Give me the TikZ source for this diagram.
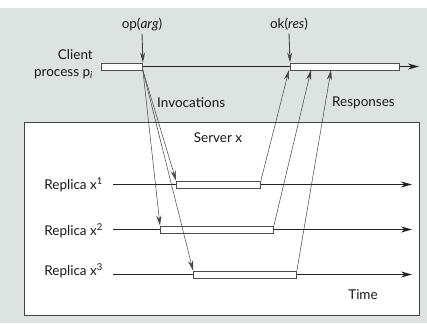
\documentclass[tikz,border=0pt]{standalone}
\usepackage{fontspec}
\setmainfont{Lato}
\usetikzlibrary{arrows.meta,calc}
\definecolor{bgc}{HTML}{DCE3E0}
\definecolor{linec}{HTML}{222222}
\tikzset{
  bar/.style={draw=linec!80, fill=white, line width=0.9pt, minimum height=7pt, inner sep=0pt, anchor=west},
  tl/.style={draw=linec, line width=0.9pt, -{Stealth[length=11pt,width=6pt]}},
  msg/.style={draw=linec!85, line width=0.5pt, -{Stealth[length=10pt,width=5pt]}},
  lbl/.style={font=\fontsize{13.5}{15}\selectfont, text=black!90, inner sep=0pt},
}
\begin{document}
\begin{tikzpicture}[x=1pt,y=-1pt]
\useasboundingbox (0,0) rectangle (427,323);
\fill[bgc] (0,8) rectangle (427,323);
\fill[white] (0,0) rectangle (427,8);
% server box
\node[draw=linec!85, fill=white, line width=1pt, minimum width=395pt, minimum height=193pt, anchor=north west, inner sep=0pt] (server) at (24,122) {};
% client
\node[bar, minimum width=41pt] (cbar) at (101,66.5) {};
\node[bar, minimum width=109pt] (rbar) at (290,66.5) {};
\coordinate (cend) at (419,66.5);
\draw[draw=linec, line width=0.9pt] (cbar.east) -- (rbar.west);
\draw[tl] (rbar.east) -- (cend);
\node[lbl, align=right, anchor=east] (client) at (93,64) {Client\\[2pt]process p\textsubscript{\textit{i}}};
\node[lbl] (op) at (142,24) {op(\textit{arg})};
\node[lbl] (ok) at (289,24) {ok(\textit{res})};
\draw[msg, line width=0.9pt] (op.south)++(0,3) -- (cbar.north east);
\draw[msg, line width=0.9pt] (ok.south)++(0,3) -- (rbar.north west);
\node[lbl, anchor=west] (inv) at (157,103) {Invocations};
\node[lbl, anchor=west] (resp) at (332,103) {Responses};
\node[lbl] (srv) at (218,138) {Server x};
% replicas
\foreach \i/\y/\a/\b/\ly in {1/184.5/176/84/185, 2/229.5/160/113/231, 3/274.5/193/103/271}{
  \node[lbl, anchor=east] (rl\i) at (103,\ly) {Replica x\textsuperscript{\i}};
  \coordinate (s\i) at (113,\y);
  \coordinate (e\i) at (412,\y);
  \node[bar, minimum width=\b pt] (b\i) at (\a,\y) {};
  \draw[draw=linec, line width=0.9pt] (s\i) -- (b\i.west);
  \draw[tl] (b\i.east) -- (e\i);
}
\node[lbl] (time) at (363,295) {Time};
% invocations
\foreach \i in {1,2,3}{
  \draw[msg] (cbar.south east) -- (b\i.north west);
}
% responses
\coordinate (r1) at (289,70);
\coordinate (r2) at (311,70);
\coordinate (r3) at (331,70);
\foreach \i in {1,2,3}{
  \draw[msg] (b\i.north east) -- (r\i);
}
\end{tikzpicture}
\end{document}
